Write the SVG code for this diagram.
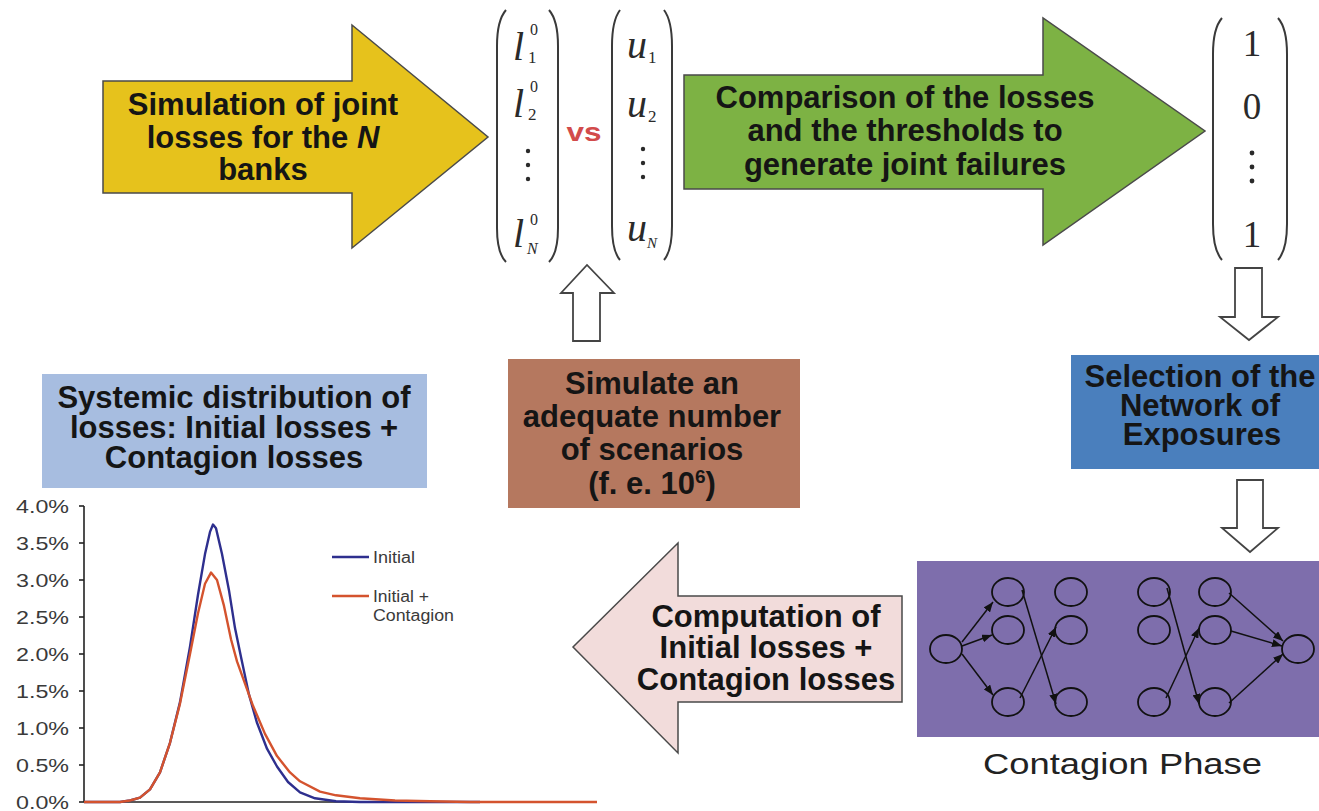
<svg xmlns="http://www.w3.org/2000/svg" width="1319" height="811" viewBox="0 0 1319 811">
  <defs>
    <style>
      .lbl { font-family: "Liberation Sans", Arial, sans-serif; font-weight: bold; font-size: 31px; fill: #151515; text-anchor: middle; }
      .math { font-family: "Liberation Serif", "Times New Roman", serif; fill: #2a2a2a; }
      .it { font-style: italic; }
      .paren { fill: none; stroke: #3a3a3a; stroke-width: 2; }
      .dot { fill: #2a2a2a; }
      .hollow { fill: #ffffff; stroke: #444444; stroke-width: 1.8; }
      .block { stroke: #4a4a4a; stroke-width: 1.5; }
      .bank { fill: none; stroke: #111111; stroke-width: 1.8; }
      .link { stroke: #111111; stroke-width: 1.5; fill: none; marker-end: url(#tip); }
      .tick { font-family: "Liberation Sans", Arial, sans-serif; font-size: 18.5px; fill: #3a3a3a; }
      .legend { font-family: "Liberation Sans", Arial, sans-serif; font-size: 16px; fill: #3a3a3a; }
    </style>
    <marker id="tip" markerUnits="userSpaceOnUse" markerWidth="10" markerHeight="8" refX="10" refY="4" orient="auto">
      <path d="M0,0 L10,4 L0,8 Z" fill="#111111"/>
    </marker>
  </defs>

  <rect width="1319" height="811" fill="#ffffff"/>

  <!-- Step 1: simulate joint losses -->
  <g id="simulate-losses">
    <path class="block" d="M103,81 H352 V25 L488,137 L352,248 V193 H103 Z" fill="#E6C21C"/>
    <text class="lbl" x="263" y="115">Simulation of joint</text>
    <text class="lbl" x="263" y="148">losses for the <tspan font-style="italic">N</tspan></text>
    <text class="lbl" x="263" y="180">banks</text>
  </g>

  <!-- Loss vector -->
  <g id="loss-vector">
    <path class="paren" d="M506,10 C499,18 497,30 497,46 L497,228 C497,244 499,255 506,262"/>
    <path class="paren" d="M549,10 C556,18 558,30 558,46 L558,228 C558,244 556,255 549,262"/>
    <text class="math it" x="513" y="60" font-size="40">l</text>
    <text class="math" x="530" y="35" font-size="16">0</text>
    <text class="math" x="528" y="63" font-size="17">1</text>
    <text class="math it" x="513" y="117" font-size="40">l</text>
    <text class="math" x="530" y="92" font-size="16">0</text>
    <text class="math" x="528" y="120" font-size="17">2</text>
    <circle class="dot" cx="528" cy="151" r="2.2"/>
    <circle class="dot" cx="528" cy="165" r="2.2"/>
    <circle class="dot" cx="528" cy="179" r="2.2"/>
    <text class="math it" x="513" y="247" font-size="40">l</text>
    <text class="math" x="530" y="225" font-size="16">0</text>
    <text class="math it" x="527" y="254" font-size="16">N</text>
  </g>

  <text id="versus" x="584" y="141" font-family="'Liberation Sans', Arial, sans-serif" font-weight="bold" font-size="26" fill="#D24B4B" text-anchor="middle" textLength="35" lengthAdjust="spacingAndGlyphs">vs</text>

  <!-- Threshold vector -->
  <g id="threshold-vector">
    <path class="paren" d="M620,10 C614,18 612,30 612,46 L612,226 C612,242 614,253 620,260"/>
    <path class="paren" d="M664,10 C670,18 672,30 672,46 L672,226 C672,242 670,253 664,260"/>
    <text class="math it" x="627" y="58" font-size="40">u</text>
    <text class="math" x="648" y="63" font-size="17">1</text>
    <text class="math it" x="627" y="117" font-size="40">u</text>
    <text class="math" x="648" y="122" font-size="17">2</text>
    <circle class="dot" cx="643" cy="149" r="2.2"/>
    <circle class="dot" cx="643" cy="163" r="2.2"/>
    <circle class="dot" cx="643" cy="177" r="2.2"/>
    <text class="math it" x="627" y="241" font-size="40">u</text>
    <text class="math it" x="647" y="248" font-size="15">N</text>
  </g>

  <!-- Step 2: compare losses with thresholds -->
  <g id="compare-thresholds">
    <path class="block" d="M684,75 H1043 V18 L1205,131 L1043,245 V189 H684 Z" fill="#7DB244"/>
    <text class="lbl" x="905" y="108">Comparison of the losses</text>
    <text class="lbl" x="905" y="141">and the thresholds to</text>
    <text class="lbl" x="905" y="175">generate joint failures</text>
  </g>

  <!-- Failure indicator vector -->
  <g id="failure-vector">
    <path class="paren" d="M1222,18 C1215,26 1213,38 1213,54 L1213,224 C1213,240 1215,252 1222,260"/>
    <path class="paren" d="M1278,18 C1285,26 1287,38 1287,54 L1287,224 C1287,240 1285,252 1278,260"/>
    <text class="math" x="1252" y="56" font-size="37" text-anchor="middle">1</text>
    <text class="math" x="1252" y="119" font-size="37" text-anchor="middle">0</text>
    <circle class="dot" cx="1252" cy="153" r="2.4"/>
    <circle class="dot" cx="1252" cy="167" r="2.4"/>
    <circle class="dot" cx="1252" cy="181" r="2.4"/>
    <text class="math" x="1252" y="247" font-size="37" text-anchor="middle">1</text>
  </g>

  <!-- Step 3: choose the exposure network -->
  <g id="select-network">
    <rect x="1071" y="355" width="260" height="114" fill="#4A7FBD"/>
    <text class="lbl" x="1200" y="387" font-size="29">Selection of the</text>
    <text class="lbl" x="1200" y="416" font-size="29">Network of</text>
    <text class="lbl" x="1202" y="445" font-size="29">Exposures</text>
  </g>

  <!-- Step 4: contagion phase -->
  <g id="contagion-phase">
    <rect x="917" y="561" width="410" height="176" fill="#7E6EAC"/>
    <ellipse class="bank" cx="946" cy="649" rx="16" ry="14"/>
    <ellipse class="bank" cx="1008" cy="592" rx="16" ry="14"/>
    <ellipse class="bank" cx="1008" cy="630" rx="16" ry="14"/>
    <ellipse class="bank" cx="1008" cy="702" rx="16" ry="14"/>
    <ellipse class="bank" cx="1071" cy="592" rx="16" ry="14"/>
    <ellipse class="bank" cx="1071" cy="630" rx="16" ry="14"/>
    <ellipse class="bank" cx="1071" cy="702" rx="16" ry="14"/>
    <ellipse class="bank" cx="1154" cy="592" rx="16" ry="14"/>
    <ellipse class="bank" cx="1154" cy="630" rx="16" ry="14"/>
    <ellipse class="bank" cx="1154" cy="702" rx="16" ry="14"/>
    <ellipse class="bank" cx="1215" cy="592" rx="16" ry="14"/>
    <ellipse class="bank" cx="1215" cy="630" rx="16" ry="14"/>
    <ellipse class="bank" cx="1215" cy="702" rx="16" ry="14"/>
    <ellipse class="bank" cx="1298" cy="649" rx="16" ry="14"/>
    <g id="exposure-links">
      <line class="link" x1="962" y1="642" x2="993" y2="602"/>
      <line class="link" x1="962" y1="646" x2="992" y2="635"/>
      <line class="link" x1="962" y1="654" x2="993" y2="695"/>
      <line class="link" x1="1022" y1="590" x2="1056" y2="704"/>
      <line class="link" x1="1020" y1="698" x2="1056" y2="627"/>
      <line class="link" x1="1167" y1="588" x2="1199" y2="704"/>
      <line class="link" x1="1166" y1="698" x2="1199" y2="628"/>
      <line class="link" x1="1229" y1="593" x2="1283" y2="641"/>
      <line class="link" x1="1231" y1="631" x2="1282" y2="646"/>
      <line class="link" x1="1229" y1="703" x2="1283" y2="654"/>
    </g>
    <text x="983" y="774" font-family="'Liberation Sans', Arial, sans-serif" font-size="30" fill="#222222" textLength="279" lengthAdjust="spacingAndGlyphs">Contagion Phase</text>
  </g>

  <!-- Step 5: aggregate losses -->
  <g id="compute-losses">
    <path class="block" d="M902,596 H678 V543 L573,647 L678,753 V702 H902 Z" fill="#F2DCDB"/>
    <text class="lbl" x="766" y="627" font-size="29">Computation of</text>
    <text class="lbl" x="766" y="658" font-size="29">Initial losses +</text>
    <text class="lbl" x="766" y="690" font-size="29">Contagion losses</text>
  </g>

  <!-- Scenario loop -->
  <g id="simulate-scenarios">
    <rect x="508" y="359" width="292" height="149" fill="#B5785F"/>
    <text class="lbl" x="652" y="394" font-size="30">Simulate an</text>
    <text class="lbl" x="652" y="427" font-size="30">adequate number</text>
    <text class="lbl" x="652" y="460" font-size="30">of scenarios</text>
    <text class="lbl" x="652" y="494" font-size="30">(f. e. 10<tspan font-size="19" dy="-11">6</tspan><tspan dy="11">)</tspan></text>
  </g>

  <!-- Result title -->
  <g id="systemic-distribution">
    <rect x="42" y="374" width="385" height="114" fill="#A7BDE0"/>
    <text class="lbl" x="234" y="408" font-size="30">Systemic distribution of</text>
    <text class="lbl" x="234" y="438" font-size="30">losses: Initial losses +</text>
    <text class="lbl" x="234" y="468" font-size="30">Contagion losses</text>
  </g>

  <!-- Loss distribution chart -->
  <g id="loss-chart">
    <g stroke="#222222" stroke-width="1.6">
      <line x1="84" y1="506" x2="84" y2="802"/>
      <line x1="84" y1="802" x2="597" y2="802"/>
      <line x1="79" y1="506" x2="84" y2="506"/>
      <line x1="79" y1="543" x2="84" y2="543"/>
      <line x1="79" y1="580" x2="84" y2="580"/>
      <line x1="79" y1="617" x2="84" y2="617"/>
      <line x1="79" y1="654" x2="84" y2="654"/>
      <line x1="79" y1="691" x2="84" y2="691"/>
      <line x1="79" y1="728" x2="84" y2="728"/>
      <line x1="79" y1="765" x2="84" y2="765"/>
      <line x1="79" y1="802" x2="84" y2="802"/>
    </g>
    <text class="tick" x="16" y="513" textLength="53" lengthAdjust="spacingAndGlyphs">4.0%</text>
    <text class="tick" x="16" y="550" textLength="53" lengthAdjust="spacingAndGlyphs">3.5%</text>
    <text class="tick" x="16" y="587" textLength="53" lengthAdjust="spacingAndGlyphs">3.0%</text>
    <text class="tick" x="16" y="624" textLength="53" lengthAdjust="spacingAndGlyphs">2.5%</text>
    <text class="tick" x="16" y="661" textLength="53" lengthAdjust="spacingAndGlyphs">2.0%</text>
    <text class="tick" x="16" y="698" textLength="53" lengthAdjust="spacingAndGlyphs">1.5%</text>
    <text class="tick" x="16" y="735" textLength="53" lengthAdjust="spacingAndGlyphs">1.0%</text>
    <text class="tick" x="16" y="772" textLength="53" lengthAdjust="spacingAndGlyphs">0.5%</text>
    <text class="tick" x="16" y="809" textLength="53" lengthAdjust="spacingAndGlyphs">0.0%</text>
    <polyline fill="none" stroke="#2E2F8E" stroke-width="2.4" stroke-linejoin="round" points="84,802 120,802 130,800.5 140,797.6 150,789.4 160,772.4 170,742.8 180,702.1 190,646.6 198,594.8 205,554.1 210,531.9 213,524.5 216,528.2 222,554.1 229,590.4 235,628.1 241,657 249,694.7 257,722.8 267,748.7 277,766.5 288,782 300,792.4 315,798.3 336,801.3 360,802 480,802"/>
    <polyline fill="none" stroke="#D4532E" stroke-width="2.4" stroke-linejoin="round" points="84,802 120,802 130,800.5 140,797.6 150,789.4 160,772.4 170,742.8 180,703.6 190,654 198,613.3 205,583.7 211,572.6 217,580 224,605.9 231,639.2 237,661.4 245,683.6 253,705.8 265,733.9 277,756.1 290,772.4 300,781.3 320,791.6 336,795.3 360,798.3 395,800.5 430,801.3 470,802 597,802"/>
    <line x1="332" y1="557" x2="369" y2="557" stroke="#2E2F8E" stroke-width="2.4"/>
    <text class="legend" x="373" y="563" textLength="42" lengthAdjust="spacingAndGlyphs">Initial</text>
    <line x1="332" y1="596" x2="369" y2="596" stroke="#D4532E" stroke-width="2.4"/>
    <text class="legend" x="373" y="602" textLength="56" lengthAdjust="spacingAndGlyphs">Initial +</text>
    <text class="legend" x="373" y="621" textLength="81" lengthAdjust="spacingAndGlyphs">Contagion</text>
  </g>

  <!-- Flow arrows between steps -->
  <g id="connectors">
    <path class="hollow" d="M573,341 V293 H561 L587,265 L614,293 H600 V341 Z"/>
    <path class="hollow" d="M1235,268 H1262 V317 H1278 L1249,340 L1220,317 H1235 Z"/>
    <path class="hollow" d="M1237,480 H1263 V528 H1278 L1250,552 L1222,528 H1237 Z"/>
  </g>
</svg>
